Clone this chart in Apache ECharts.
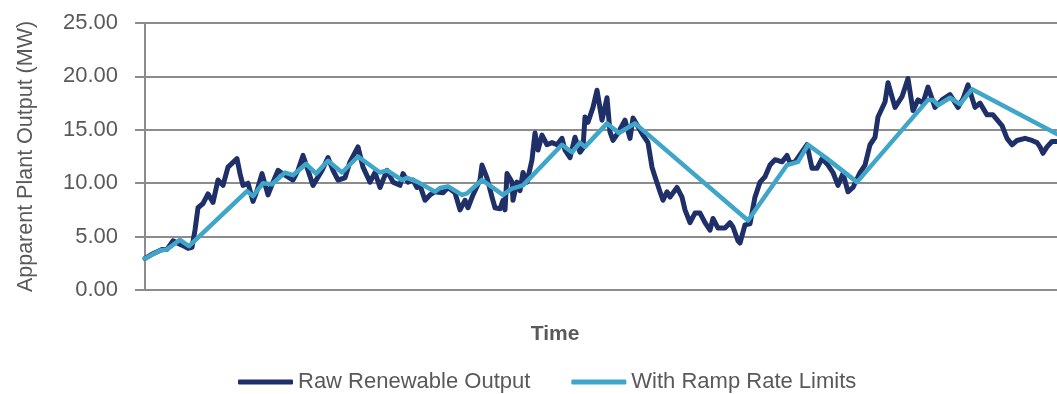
<!DOCTYPE html>
<html>
<head>
<meta charset="utf-8">
<script src="https://cdn.jsdelivr.net/npm/echarts@6/dist/echarts.min.js"></script>
<style>
  html, body { margin: 0; padding: 0; background: #fff; }
  #chart { width: 1057px; height: 394px; }
</style>
</head>
<body>
<div id="chart"></div>
<script>
// time index (arbitrary steps) and output in MW
const rawTime = [0, 4, 8.5, 11, 14, 18.5, 21.5, 23.5, 25, 26.5, 29, 31.5, 34, 36.5, 39, 41.5, 46, 47.5, 49, 51.5,
  54, 56, 58.5, 61.5, 64, 66.5, 70, 74, 76.5, 79, 81.5, 84, 88.5, 91.5, 94, 96.5, 100, 102.5, 106.5, 109,
  112.5, 115, 117.5, 121, 124, 127.5, 129, 131.5, 134, 136, 137.5, 140, 142.5, 145, 149, 151.5, 155, 157.5, 160, 161.5,
  164, 167.5, 168.5, 171, 173.5, 175, 177.5, 179, 180, 181, 183.5, 184, 186, 187.5, 189, 191, 193.5, 195, 196.5, 198.5,
  201, 203.5, 206, 208.5, 210, 212.5, 215, 217.5, 219, 220, 221.5, 224, 226, 228.5, 231, 232.5, 234, 236.5, 240, 242.5,
  244, 246.5, 249, 251.5, 253.5, 255, 257.5, 259, 261, 262.5, 266, 268.5, 270, 272.5, 275, 277.5, 280, 282.5, 284, 286.5,
  290, 292.5, 294, 296.5, 297.5, 300, 302.5, 305, 307.5, 310, 312.5, 315, 318.5, 321, 322.5, 325, 331, 333.5, 336, 338.5,
  341.5, 344, 346.5, 349, 351.5, 354, 357.5, 360, 362.5, 365, 366.5, 370, 371.5, 375, 378.5, 381.5, 384, 386.5, 389, 391.5,
  395, 398.5, 402.5, 406.5, 409, 411.5, 415, 417.5, 421, 424, 428.5, 431, 433.5, 436, 440, 443.5, 446, 447.5, 449, 451,
  453.5, 456];
const rawMW = [2.96, 3.4, 3.8, 3.8, 4.6, 4.2, 3.9, 4.0, 5.6, 7.7, 8.1, 9.0, 8.2, 10.3, 9.8, 11.5, 12.3, 10.9, 9.8, 10.0,
  8.3, 9.3, 10.9, 8.9, 10.1, 11.2, 10.75, 10.3, 11.2, 12.6, 11.2, 9.8, 11.2, 12.4, 11.2, 10.3, 10.5, 12.0, 13.4, 11.5,
  10.1, 11.0, 9.6, 11.2, 10.1, 9.8, 10.9, 10.1, 10.3, 9.6, 9.8, 8.4, 8.9, 9.2, 9.1, 9.6, 9.1, 7.5, 8.4, 7.7,
  8.9, 10.3, 11.7, 10.5, 8.7, 7.7, 7.6, 8.4, 7.5, 10.9, 10.1, 8.4, 10.1, 9.3, 11.0, 10.1, 12.2, 14.7, 13.1, 14.5,
  13.6, 13.8, 13.6, 14.2, 13.1, 12.4, 14.3, 12.9, 13.3, 16.2, 15.7, 17.1, 18.7, 15.9, 18.0, 14.8, 14.0, 14.7, 15.9, 14.2,
  16.1, 15.3, 14.5, 13.8, 11.5, 10.6, 9.2, 8.4, 9.2, 8.7, 9.6, 8.7, 7.5, 6.3, 7.2, 7.2, 6.3, 5.6, 6.7, 5.8,
  5.8, 6.3, 5.9, 4.6, 4.4, 6.1, 6.2, 8.7, 10.1, 10.6, 11.7, 12.2, 12.0, 12.6, 11.9, 12.0, 13.6, 11.4, 11.4, 12.3,
  11.7, 11.0, 9.8, 10.9, 9.2, 9.6, 11.0, 11.7, 13.6, 14.3, 16.2, 17.6, 19.4, 17.1, 18.1, 19.8, 16.8, 17.8, 17.5, 19.0,
  17.1, 17.8, 18.3, 17.1, 17.9, 19.2, 17.1, 17.5, 16.4, 16.4, 15.4, 14.2, 13.6, 14.0, 14.2, 14.0, 13.8, 13.4, 12.8, 13.4,
  13.9, 13.9];

// ramp-limited output: corners of the piecewise line
const rampTime = [0, 3.5, 7.5, 11, 17.5, 22, 51, 54, 59, 63.5, 70, 74, 80.5, 85.5, 91.5, 98.5, 106.5, 117.5, 121, 128.5,
  131, 136.5, 145, 147.5, 151.5, 158.5, 161, 168.5, 179, 183.5, 189, 208.5, 213.5, 217.5, 220, 231, 237, 245, 301.5, 321,
  326.5, 331.5, 341, 356, 391.5, 394, 396.5, 402.5, 407.5, 413.5, 456];
const rampMW = [2.96, 3.3, 3.7, 3.8, 4.7, 4.1, 9.25, 8.8, 10.0, 9.9, 11.0, 10.75, 11.8, 10.9, 12.1, 11.0, 12.5, 11.0, 11.2, 10.3,
  10.5, 10.1, 9.2, 9.55, 9.7, 8.9, 9.05, 10.3, 8.9, 9.5, 9.8, 13.6, 12.9, 13.8, 13.4, 15.6, 14.7, 15.6, 6.5, 11.7,
  12.0, 13.6, 12.3, 10.1, 17.8, 17.8, 17.3, 18.0, 17.4, 18.8, 14.6];

const yTicks = [0, 5, 10, 15, 20, 25];
const seriesNames = ['Raw Renewable Output', 'With Ramp Rate Limits'];

const font = '"Liberation Sans", Arial, sans-serif';
const textColor = '#595959';
const gridColor = '#8c8c8c';

const chart = echarts.init(document.getElementById('chart'));

chart.setOption({
  animation: false,
  grid: { left: 145, right: 0, top: 23, bottom: 104, outerBoundsMode: 'none', containLabel: false },
  legend: {
    left: 233,
    top: 366,
    itemWidth: 55,
    itemHeight: 5,
    itemGap: 41,
    icon: 'roundRect',
    textStyle: { fontFamily: font, fontSize: 22, color: textColor },
    data: seriesNames
  },
  graphic: [
    {
      type: 'text',
      x: 555,
      y: 334,
      style: {
        text: 'Time',
        font: 'bold 21px ' + font,
        fill: textColor,
        textAlign: 'center',
        textVerticalAlign: 'middle'
      }
    }
  ],
  xAxis: {
    type: 'value',
    min: 0,
    max: 456,
    axisLine: { show: false },
    axisTick: { show: false },
    axisLabel: { show: false },
    splitLine: { show: false }
  },
  yAxis: {
    type: 'value',
    min: yTicks[0],
    max: yTicks[yTicks.length - 1],
    interval: 5,
    name: 'Apparent Plant Output (MW)',
    nameLocation: 'middle',
    nameRotate: 90,
    nameGap: 108,
    nameTextStyle: { fontFamily: font, fontSize: 21.5, color: textColor },
    axisLine: { show: true, lineStyle: { color: gridColor, width: 2 } },
    axisTick: { show: true, length: 10, lineStyle: { color: gridColor, width: 2 } },
    axisLabel: {
      margin: 27,
      fontFamily: font,
      fontSize: 22,
      color: textColor,
      formatter: (v) => v.toFixed(2)
    },
    splitLine: { show: true, lineStyle: { color: gridColor, width: 2 } }
  },
  series: [
    {
      name: seriesNames[0],
      type: 'line',
      symbol: 'none',
      data: rawTime.map((t, i) => [t, rawMW[i]]),
      lineStyle: { color: '#1f2f68', width: 5, join: 'round', cap: 'round' },
      itemStyle: { color: '#1f2f68' },
      z: 2
    },
    {
      name: seriesNames[1],
      type: 'line',
      symbol: 'none',
      data: rampTime.map((t, i) => [t, rampMW[i]]),
      lineStyle: { color: '#3fa6ca', width: 4.5, join: 'round', cap: 'round' },
      itemStyle: { color: '#3fa6ca' },
      z: 3
    }
  ]
});
</script>
</body>
</html>
